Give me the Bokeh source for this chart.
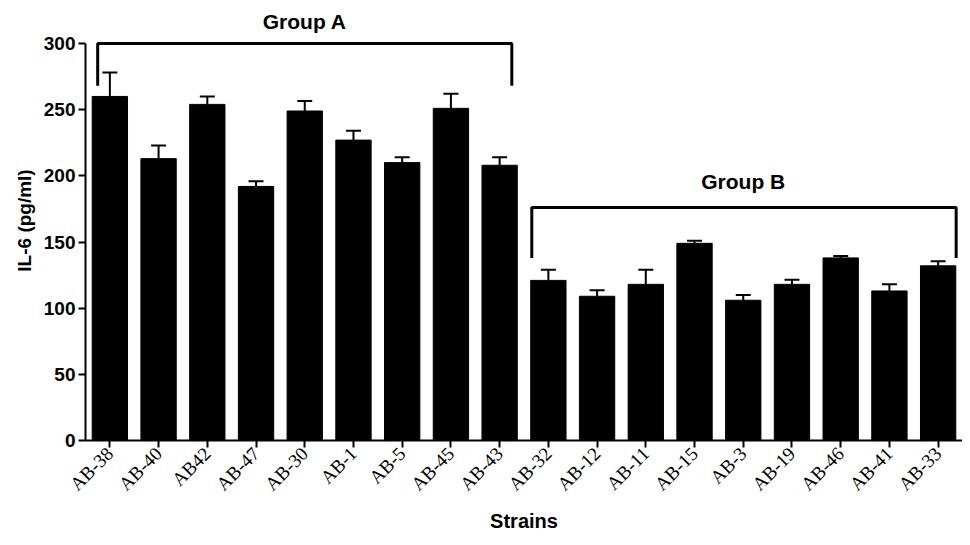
import math
from bokeh.plotting import figure
from bokeh.models import ColumnDataSource, Whisker, TeeHead, Range1d, FactorRange, FixedTicker
from bokeh.embed import file_html
from bokeh.resources import INLINE
from bokeh.core.properties import value

strains = ["AB-38", "AB-40", "AB42", "AB-47", "AB-30", "AB-1", "AB-5", "AB-45", "AB-43",
           "AB-32", "AB-12", "AB-11", "AB-15", "AB-3", "AB-19", "AB-46", "AB-41", "AB-33"]
il6 = [260, 213, 254, 192, 249, 227, 210, 251, 208,
       121, 109, 118, 149, 106, 118, 138, 113, 132]
sem = [18, 10, 6, 4, 7.5, 7, 4, 11, 6,
       8, 4.5, 11, 2, 4, 3.5, 1.5, 5, 3.5]
y_ticks = [0, 50, 100, 150, 200, 250, 300]

group_names = ["Group A", "Group B"]
group_members = [strains[:9], strains[9:]]
bracket_top = [300, 176]
bracket_leg = [268, 138]
label_y = [317, 196]
bracket_offsets = [(-0.25, 0.25), (-0.34, 0.37)]

p = figure(width=962, height=537, output_backend="svg", toolbar_location=None,
           x_range=FactorRange(factors=strains, range_padding=0),
           y_range=Range1d(0, 332.5),
           min_border_left=85, min_border_right=0, min_border_top=0, min_border_bottom=97)
p.outline_line_color = None
p.xgrid.grid_line_color = None
p.ygrid.grid_line_color = None

src = ColumnDataSource(dict(x=strains, top=il6,
                            upper=[v + e for v, e in zip(il6, sem)]))
p.add_layout(Whisker(source=src, base="x", lower="top", upper="upper", dimension="height",
                     line_width=2, line_color="black", lower_head=None,
                     upper_head=TeeHead(size=15, line_width=2, line_color="black")))
p.vbar(x="x", top="top", width=0.725, source=src, fill_color="black", line_color="black")

for name, mem, top, leg, ly, (o0, o1) in zip(group_names, group_members, bracket_top,
                                              bracket_leg, label_y, bracket_offsets):
    xs = [(mem[0], o0), (mem[0], o0), (mem[-1], o1), (mem[-1], o1)]
    ys = [leg, top, top, leg]
    p.line(x=xs, y=ys, line_width=3, line_color="black")
    p.text(x=[(mem[len(mem) // 2], 0.0)], y=[ly], text=[name],
           text_font=value("Liberation Sans"), text_font_style="bold",
           text_font_size="21px", text_align="center", text_baseline="middle",
           text_color="black")

for ax in (p.xaxis[0], p.yaxis[0]):
    ax.axis_line_width = 2
    ax.axis_line_color = "black"
    ax.major_tick_line_width = 2
    ax.major_tick_line_color = "black"
    ax.major_tick_in = 0
    ax.major_tick_out = 7
    ax.minor_tick_line_color = None
    ax.axis_label_text_font = "Liberation Sans"
    ax.axis_label_text_font_style = "bold"
    ax.axis_label_text_color = "black"
    ax.major_label_text_color = "black"

p.yaxis.bounds = (0, 300)
p.yaxis.ticker = FixedTicker(ticks=y_ticks)
p.yaxis.major_label_text_font = "Liberation Sans"
p.yaxis.major_label_text_font_style = "bold"
p.yaxis.major_label_text_font_size = "19px"
p.yaxis.major_label_standoff = 3
p.yaxis.axis_label = "IL-6 (pg/ml)"
p.yaxis.axis_label_text_font_size = "19px"
p.yaxis.axis_label_standoff = 6

p.xaxis.major_label_orientation = math.pi / 4
p.xaxis.major_label_text_font = "Liberation Serif"
p.xaxis.major_label_text_font_size = "19px"
p.xaxis.major_label_standoff = 3
p.xaxis.axis_label = "Strains"
p.xaxis.axis_label_text_font_size = "20px"
p.xaxis.axis_label_standoff = 5

open("out.html", "w").write(file_html(p, INLINE))
